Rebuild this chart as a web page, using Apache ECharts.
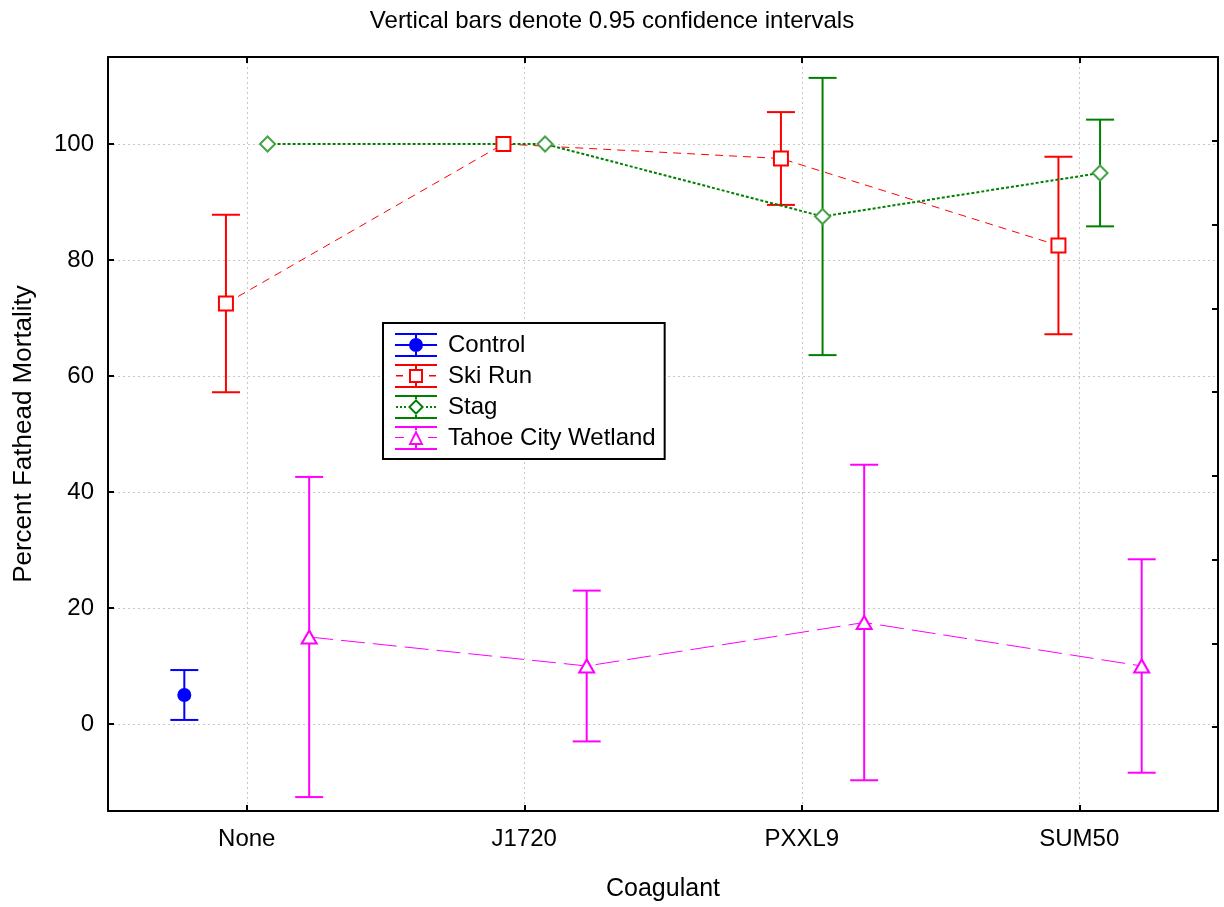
<!DOCTYPE html>
<html>
<head>
<meta charset="utf-8">
<script src="https://cdn.jsdelivr.net/npm/echarts@6/dist/echarts.min.js"></script>
<style>
  html, body { margin: 0; padding: 0; background: #ffffff; }
  #chart { width: 1224px; height: 907px; }
</style>
</head>
<body>
<div id="chart"></div>
<script>
// ---- data ----
const categories = ['None', 'J1720', 'PXXL9', 'SUM50'];

const controlMean = [5, null, null, null];
const controlLow  = [0.7, null, null, null];
const controlHigh = [9.3, null, null, null];

const skiRunMean = [72.5, 100, 97.5, 82.5];
const skiRunLow  = [57.2, 100, 89.5, 67.2];
const skiRunHigh = [87.8, 100, 105.5, 97.8];

const stagMean = [100, 100, 87.5, 95];
const stagLow  = [100, 100, 63.6, 85.8];
const stagHigh = [100, 100, 111.4, 104.2];

const tahoeMean = [15, 10, 17.5, 10];
const tahoeLow  = [-12.6, -3, -9.7, -8.4];
const tahoeHigh = [42.6, 23, 44.7, 28.4];

const yTicksMin = -15, yTicksMax = 115;

// ---- layout (group offsets within a category) ----
const offsets = { Control: -0.225, 'Ski Run': -0.075, Stag: 0.075, 'Tahoe City Wetland': 0.225 };
const FONT = '"Liberation Sans", Arial, Helvetica, sans-serif';

function points(name, means) {
  const out = [];
  means.forEach((m, i) => { if (m !== null) out.push([i + offsets[name], m]); });
  return out;
}
function bars(name, lows, highs) {
  const out = [];
  lows.forEach((lo, i) => {
    if (lo !== null && highs[i] !== null) out.push([i + offsets[name], lo, highs[i]]);
  });
  return out;
}
function errSeries(name, color, lows, highs) {
  return {
    name: name + ' CI',
    type: 'custom',
    xAxisIndex: 0, yAxisIndex: 0,
    z: 2,
    silent: true,
    encode: { x: 0, y: [1, 2] },
    data: bars(name, lows, highs),
    renderItem: function (params, api) {
      const x = api.value(0), lo = api.value(1), hi = api.value(2);
      if (lo === hi) return null;
      const pTop = api.coord([x, hi]);
      const pBot = api.coord([x, lo]);
      const hw = 14;
      const style = { stroke: color, lineWidth: 2, fill: null };
      return {
        type: 'group',
        children: [
          { type: 'line', shape: { x1: pTop[0], y1: pTop[1], x2: pBot[0], y2: pBot[1] }, style: style },
          { type: 'line', shape: { x1: pTop[0] - hw, y1: pTop[1], x2: pTop[0] + hw, y2: pTop[1] }, style: style },
          { type: 'line', shape: { x1: pBot[0] - hw, y1: pBot[1], x2: pBot[0] + hw, y2: pBot[1] }, style: style }
        ]
      };
    }
  };
}

// legend icons (42 x 24)
const frame = 'M0 0H42V2H0Z M0 22H42V24H0Z ';
const iconControl = 'path://' + frame + 'M0 11H42V13H0Z M20 0H22V24H20Z M14 12A7 7 0 1 1 28 12A7 7 0 1 1 14 12Z';
const iconSki = 'path://' + frame + 'M20 0H22V5H20Z M20 19H22V24H20Z M1 11H8V12.5H1Z M34 11H41V12.5H34Z M14 5H28V19H14Z M16 7V17H26V7Z';
const iconStag = 'path://' + frame + 'M20 0H22V4H20Z M20 20H22V24H20Z M1 11H3V13H1Z M5 11H7V13H5Z M9 11H11V13H9Z M31 11H33V13H31Z M35 11H37V13H35Z M39 11H41V13H39Z M21 4L29 12L21 20L13 12Z M21 6.8L15.8 12L21 17.2L26.2 12Z';
const iconTahoe = 'path://' + frame + 'M20 0H22V4H20Z M20 19H22V24H20Z M0 11H9V12H0Z M33 11H42V12H33Z M21 4L28.5 19L13.5 19Z M21 8.2L16.5 17L25.5 17Z';

const chart = echarts.init(document.getElementById('chart'), null, { renderer: 'canvas' });

const axisLineStyle = { color: '#000', width: 2 };
const tickStyle = { color: '#000', width: 2 };
const gridLine = { show: true, lineStyle: { color: '#c8c8c8', width: 1, type: [2, 3] } };

const option = {
  animation: false,
  backgroundColor: '#ffffff',
  title: {
    text: 'Vertical bars denote 0.95 confidence intervals',
    left: 'center',
    top: 4,
    textStyle: { fontFamily: FONT, fontSize: 24, fontWeight: 'normal', color: '#000' }
  },
  grid: { left: 108, right: 6, top: 57, bottom: 96, containLabel: false },
  legend: {
    orient: 'vertical',
    left: 383,
    top: 323,
    selectedMode: false,
    backgroundColor: '#ffffff',
    borderColor: '#000',
    borderWidth: 2,
    padding: [10, 9, 9, 12],
    itemWidth: 42,
    itemHeight: 24,
    itemGap: 7,
    itemStyle: { borderWidth: 0 },
    textStyle: { fontFamily: FONT, fontSize: 24, color: '#000', padding: [3, 0, 0, 6] },
    data: [
      { name: 'Control', icon: iconControl, itemStyle: { color: '#0000ff', borderWidth: 0 } },
      { name: 'Ski Run', icon: iconSki, itemStyle: { color: '#ff0000', borderWidth: 0 } },
      { name: 'Stag', icon: iconStag, itemStyle: { color: '#008000', borderWidth: 0 } },
      { name: 'Tahoe City Wetland', icon: iconTahoe, itemStyle: { color: '#ff00ff', borderWidth: 0 } }
    ]
  },
  xAxis: [
    {
      type: 'value',
      position: 'bottom',
      min: -0.5, max: 3.5, splitNumber: 4,
      name: 'Coagulant',
      nameLocation: 'middle',
      nameGap: 66,
      nameTextStyle: { fontFamily: FONT, fontSize: 25, color: '#000' },
      axisLine: { show: true, onZero: false, lineStyle: axisLineStyle },
      axisTick: { show: true, inside: true, length: 6, lineStyle: tickStyle },
      axisLabel: {
        fontFamily: FONT, fontSize: 24, color: '#000', margin: 16,
        showMinLabel: false, showMaxLabel: false,
        formatter: function (v) {
          const r = Math.round(v);
          return (Math.abs(v - r) < 1e-6 && categories[r] !== undefined) ? categories[r] : '';
        }
      },
      splitLine: gridLine
    },
    {
      type: 'value',
      position: 'top',
      min: -0.5, max: 3.5, splitNumber: 4,
      axisLine: { show: true, onZero: false, lineStyle: axisLineStyle },
      axisTick: { show: true, inside: true, length: 6, lineStyle: tickStyle },
      axisLabel: { show: false },
      splitLine: { show: false }
    }
  ],
  yAxis: [
    {
      type: 'value',
      position: 'left',
      min: yTicksMin, max: yTicksMax, splitNumber: 6,
      name: 'Percent Fathead Mortality',
      nameLocation: 'middle',
      nameGap: 71,
      nameTextStyle: { fontFamily: FONT, fontSize: 26, color: '#000' },
      axisLine: { show: true, onZero: false, lineStyle: axisLineStyle },
      axisTick: { show: true, inside: true, length: 6, lineStyle: tickStyle },
      axisLabel: {
        fontFamily: FONT, fontSize: 24, color: '#000', margin: 14,
        showMinLabel: false, showMaxLabel: false,
        formatter: function (v) { return (v % 20 === 0) ? String(v) : ''; }
      },
      splitLine: gridLine
    },
    {
      type: 'value',
      position: 'right',
      min: 0, max: 9, interval: 1,
      axisLine: { show: true, onZero: false, lineStyle: axisLineStyle },
      axisTick: { show: true, inside: true, length: 6, lineStyle: tickStyle },
      axisLabel: { show: false },
      splitLine: { show: false }
    }
  ],
  series: [
    errSeries('Control', '#0000ff', controlLow, controlHigh),
    errSeries('Ski Run', '#ff0000', skiRunLow, skiRunHigh),
    errSeries('Stag', '#008000', stagLow, stagHigh),
    errSeries('Tahoe City Wetland', '#ff00ff', tahoeLow, tahoeHigh),
    {
      name: 'Control', type: 'line', z: 5,
      data: points('Control', controlMean),
      symbol: 'circle', symbolSize: 14,
      itemStyle: { color: '#0000ff' },
      lineStyle: { width: 0 }
    },
    {
      name: 'Ski Run', type: 'line', z: 4,
      data: points('Ski Run', skiRunMean),
      symbol: 'rect', symbolSize: 14,
      itemStyle: { color: '#ffffff', borderColor: '#ff0000', borderWidth: 2 },
      lineStyle: { color: '#ff0000', width: 1, type: [8, 6] }
    },
    {
      name: 'Stag', type: 'line', z: 4,
      data: points('Stag', stagMean),
      symbol: 'diamond', symbolSize: 15,
      itemStyle: { color: '#ffffff', borderColor: '#45a445', borderWidth: 2 },
      lineStyle: { color: '#008000', width: 2, type: [3, 2] }
    },
    {
      name: 'Tahoe City Wetland', type: 'line', z: 4,
      data: points('Tahoe City Wetland', tahoeMean),
      symbol: 'triangle', symbolSize: [15, 13],
      itemStyle: { color: '#ffffff', borderColor: '#ff00ff', borderWidth: 2 },
      lineStyle: { color: '#ff00ff', width: 1, type: [24, 8] }
    }
  ]
};
chart.setOption(option);
</script>
</body>
</html>
